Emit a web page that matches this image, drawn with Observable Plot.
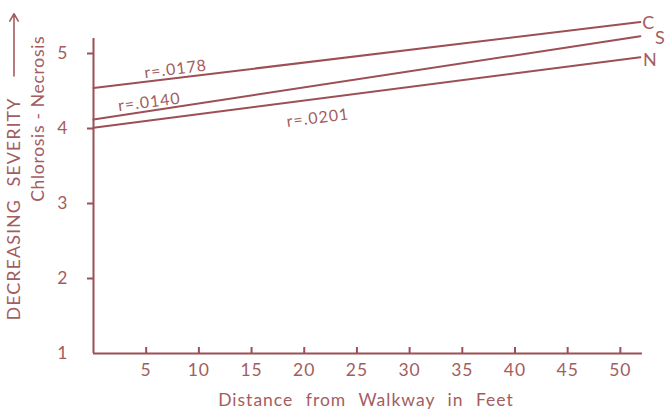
<!DOCTYPE html>
<html>
<head>
<meta charset="utf-8">
<script src="https://cdn.jsdelivr.net/npm/d3@7"></script>
<script src="https://cdn.jsdelivr.net/npm/@observablehq/plot@0.6"></script>
<style>
  html, body { margin: 0; padding: 0; background: #ffffff; }
  #chart { width: 666px; height: 412px; }
  #chart svg text { letter-spacing: 1px; word-spacing: 7px; }
</style>
</head>
<body>
<div id="chart"></div>
<script>
// ---- data ----
const seriesNames   = ["C", "S", "N"];
const distanceFeet  = [0, 51.9];                 // line extent (feet)
const startSeverity = [4.54, 4.12, 4.01];        // value at 0 ft
const endSeverity   = [5.42, 5.23, 4.95];        // value at 51.9 ft
const rLabels       = ["r=.0178", "r=.0140", "r=.0201"];
const rLabelFeet    = [7.8, 5.3, 21.3];
const rLabelValue   = [4.79, 4.35, 4.14];
const endLabelFeet  = [52.7, 53.8, 52.85];
const endLabelValue = [5.41, 5.20, 4.91];
const xTicks = [5, 10, 15, 20, 25, 30, 35, 40, 45, 50];
const yTicks = [2, 3, 4, 5];
const xTitle = "Distance from Walkway in Feet";
const yTitleOuter = "DECREASING SEVERITY";
const yTitleInner = "Chlorosis - Necrosis";

// ---- tables built from the arrays ----
const lineData = seriesNames.flatMap((s, i) => [
  {series: s, feet: distanceFeet[0], value: startSeverity[i]},
  {series: s, feet: distanceFeet[1], value: endSeverity[i]}
]);
const rData = rLabels.map((t, i) => ({text: t, feet: rLabelFeet[i], value: rLabelValue[i]}));
const endData = seriesNames.map((s, i) => ({text: s, feet: endLabelFeet[i], value: endLabelValue[i]}));

const ink = "#9c4f54";
const textInk = "#a35d60";
const font = "Lato, 'Open Sans', sans-serif";

const chart = Plot.plot({
  width: 666,
  height: 412,
  marginLeft: 93,
  marginRight: 4,
  marginTop: 15.5,
  marginBottom: 59,
  x: {domain: [0, 54]},
  y: {domain: [1, 5.5]},
  style: {fontFamily: font, color: textInk, background: "#ffffff"},
  marks: [
    // axis frame lines
    Plot.ruleY([1], {x1: 0, x2: 52.1, stroke: ink, strokeWidth: 2}),
    Plot.ruleX([0], {y1: 1, y2: 5.2, stroke: ink, strokeWidth: 2}),
    // axes
    Plot.axisX(xTicks, {tickSize: -6, tickPadding: 16, fontSize: 17.5, stroke: ink, strokeWidth: 2, fill: textInk, tickFormat: d => String(d), label: null}),
    Plot.axisY(yTicks, {tickSize: 6, tickPadding: 19, fontSize: 17.5, stroke: ink, strokeWidth: 2, fill: textInk, tickFormat: d => String(d), label: null}),
    Plot.axisY([1], {tickSize: 0, tickPadding: 25, fontSize: 17.5, fill: textInk, tickFormat: d => String(d), label: null}),
    // regression lines
    Plot.line(lineData, {x: "feet", y: "value", z: "series", stroke: ink, strokeWidth: 2}),
    // r labels
    Plot.text(rData, {x: "feet", y: "value", text: "text", rotate: -7, fontSize: 16, fill: textInk}),
    // end labels
    Plot.text(endData, {x: "feet", y: "value", text: "text", fontSize: 18, fill: textInk}),
    // titles
    Plot.text([xTitle], {frameAnchor: "bottom", dy: 52, dx: -12, fontSize: 17.5, fill: textInk}),
    Plot.text([yTitleInner], {frameAnchor: "left", y: [4.13], dx: -55, rotate: -90, textAnchor: "middle", fontSize: 17.5, fill: textInk}),
    Plot.text([yTitleOuter], {frameAnchor: "left", y: [1.44], dx: -79.5, rotate: -90, textAnchor: "start", fontSize: 18, fill: textInk}),
    // arrow after the outer y title
    Plot.arrow([0], {x1: 0, x2: 0, y1: 4.70, y2: 5.53, dx: -79.5, stroke: textInk, strokeWidth: 1.6, headLength: 8, bend: 0})
  ]
});
d3.select(chart).selectAll("text")
  .filter(function() { return this.textContent === yTitleInner; })
  .style("word-spacing", "0px")
  .style("letter-spacing", "0.7px");
document.getElementById("chart").appendChild(chart);
</script>
</body>
</html>
